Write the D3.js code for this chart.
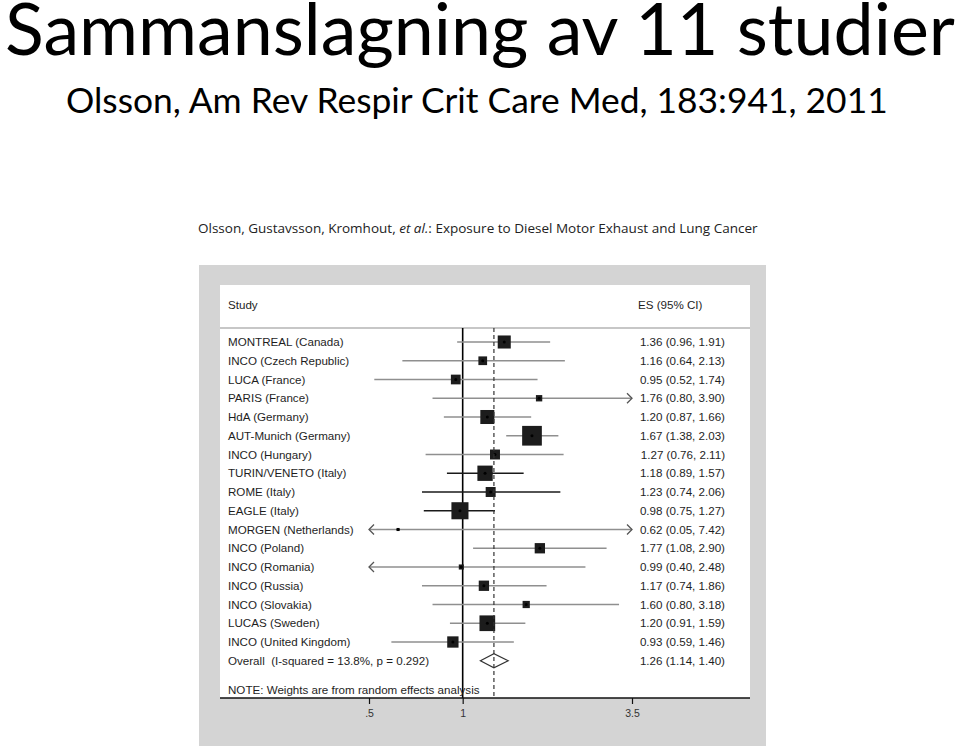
<!DOCTYPE html>
<html>
<head>
<meta charset="utf-8">
<script src="https://cdn.jsdelivr.net/npm/d3@7"></script>
<style>
  html, body { margin: 0; padding: 0; background: #ffffff; }
  svg { display: block; }
</style>
</head>
<body>
<script>
// ---------- DATA ----------
const studies = [
  "MONTREAL (Canada)", "INCO (Czech Republic)", "LUCA (France)", "PARIS (France)",
  "HdA (Germany)", "AUT-Munich (Germany)", "INCO (Hungary)", "TURIN/VENETO (Italy)",
  "ROME (Italy)", "EAGLE (Italy)", "MORGEN (Netherlands)", "INCO (Poland)",
  "INCO (Romania)", "INCO (Russia)", "INCO (Slovakia)", "LUCAS (Sweden)",
  "INCO (United Kingdom)"
];
const es    = [1.36, 1.16, 0.95, 1.76, 1.20, 1.67, 1.27, 1.18, 1.23, 0.98, 0.62, 1.77, 0.99, 1.17, 1.60, 1.20, 0.93];
const lower = [0.96, 0.64, 0.52, 0.80, 0.87, 1.38, 0.76, 0.89, 0.74, 0.75, 0.05, 1.08, 0.40, 0.74, 0.80, 0.91, 0.59];
const upper = [1.91, 2.13, 1.74, 3.90, 1.66, 2.03, 2.11, 1.57, 2.06, 1.27, 7.42, 2.90, 2.48, 1.86, 3.18, 1.59, 1.46];
const weights = [7.2, 3.2, 4.0, 1.7, 8.3, 16.4, 4.2, 9.9, 4.2, 12.3, 0.4, 4.5, 1.1, 4.5, 2.2, 10.4, 5.4];
const overall = { es: 1.26, lower: 1.14, upper: 1.40, label: "Overall  (I-squared = 13.8%, p = 0.292)" };
const tickValues = [0.5, 1, 3.5];
const tickLabels = [".5", "1", "3.5"];
const darkCIStudies = ["TURIN/VENETO (Italy)", "ROME (Italy)", "EAGLE (Italy)"];

// ---------- LAYOUT ----------
const W = 960, H = 746;
const svg = d3.select("body").append("svg").attr("width", W).attr("height", H);

const titleFont = "Lato, 'Open Sans', sans-serif";

// Fit a text to a target width by choosing its font size (no glyph distortion)
function fitText(t, target, maxSize) {
  t.attr("font-size", 100);
  const w = t.node().getComputedTextLength();
  t.attr("font-size", Math.min(maxSize, 100 * target / w));
}

// Titles
const t1 = svg.append("text")
  .attr("x", 5).attr("y", 55)
  .attr("font-family", titleFont).attr("fill", "#000")
  .text("Sammanslagning av 11 studier");
fitText(t1, 950, 72);

const t2 = svg.append("text")
  .attr("x", 66).attr("y", 113)
  .attr("font-family", titleFont).attr("fill", "#000")
  .text("Olsson, Am Rev Respir Crit Care Med, 183:941, 2011");
fitText(t2, 822, 46);

// Journal running header
const jh = svg.append("text")
  .attr("x", 198).attr("y", 233)
  .attr("font-family", "'Open Sans', 'Noto Sans', sans-serif")
  .attr("fill", "#222");
jh.append("tspan").text("Olsson, Gustavsson, Kromhout, ");
jh.append("tspan").attr("font-style", "italic").text("et al.");
jh.append("tspan").text(": Exposure to Diesel Motor Exhaust and Lung Cancer");
fitText(jh, 560, 14);

// Gray frame and white plot panel
svg.append("rect").attr("x", 199).attr("y", 265).attr("width", 567).attr("height", 481).attr("fill", "#d4d4d4");
svg.append("rect").attr("x", 220).attr("y", 285).attr("width", 530).attr("height", 413).attr("fill", "#ffffff");

// Scales
const x = d3.scaleLog().domain([0.5, 3.5]).range([369, 632]);
const y = d3.scaleLinear().domain([0, studies.length]).range([342, 660.75]);
const side = d3.scaleSqrt().domain([0, d3.max(weights)]).range([0, 19.7]);

const fontF = "'Liberation Sans', Arial, sans-serif";
const txtCol = "#1e1e1e";
const fs = 11.6;

// Header
svg.append("text").attr("x", 228).attr("y", 309).attr("font-family", fontF).attr("font-size", fs)
  .attr("fill", txtCol).text("Study");
svg.append("text").attr("x", 638).attr("y", 309).attr("font-family", fontF)
  .attr("font-size", fs).attr("fill", txtCol).text("ES (95% CI)");
svg.append("line").attr("x1", 220).attr("x2", 750).attr("y1", 328).attr("y2", 328)
  .attr("stroke", "#b4b4b4").attr("stroke-width", 1.5);

const plotTop = 328, axisY = 698;
const [xmin, xmax] = x.domain();

// Null line
svg.append("line").attr("x1", x(1)).attr("x2", x(1)).attr("y1", plotTop).attr("y2", axisY)
  .attr("stroke", "#000").attr("stroke-width", 1.6);

// Rows
const rows = studies.map((s, i) => ({ s, i, es: es[i], lo: lower[i], hi: upper[i], w: weights[i] }));
const g = svg.append("g");

rows.forEach(d => {
  const yy = y(d.i);
  const dark = darkCIStudies.includes(d.s);
  const col = dark ? "#1a1a1a" : "#8f8f8f";
  const x1 = x(Math.max(d.lo, xmin)), x2 = x(Math.min(d.hi, xmax));
  g.append("line").attr("x1", x1).attr("x2", x2).attr("y1", yy).attr("y2", yy)
    .attr("stroke", col).attr("stroke-width", 1.4);
  if (d.lo < xmin) {
    g.append("path").attr("d", `M${x1 + 5},${yy - 5}L${x1},${yy}L${x1 + 5},${yy + 5}`)
      .attr("fill", "none").attr("stroke", "#555").attr("stroke-width", 1.3);
  }
  if (d.hi > xmax) {
    g.append("path").attr("d", `M${x2 - 5},${yy - 5}L${x2},${yy}L${x2 - 5},${yy + 5}`)
      .attr("fill", "none").attr("stroke", "#555").attr("stroke-width", 1.3);
  }
  const sz = side(d.w);
  g.append("rect").attr("x", x(d.es) - sz / 2).attr("y", yy - sz / 2)
    .attr("width", sz).attr("height", sz).attr("fill", "#1c1c1c");
  g.append("circle").attr("cx", x(d.es)).attr("cy", yy).attr("r", 1.5).attr("fill", "#000");
  // labels
  g.append("text").attr("x", 228).attr("y", yy + 4).attr("font-family", fontF).attr("font-size", fs)
    .attr("fill", txtCol).text(d.s);
  g.append("text").attr("x", 725).attr("y", yy + 4).attr("text-anchor", "end").attr("font-family", fontF)
    .attr("font-size", fs).attr("fill", txtCol)
    .text(`${d.es.toFixed(2)} (${d.lo.toFixed(2)}, ${d.hi.toFixed(2)})`);
});

// Overall
const yo = y(studies.length);
svg.append("line").attr("x1", x(overall.es)).attr("x2", x(overall.es)).attr("y1", plotTop).attr("y2", axisY)
  .attr("stroke", "#333").attr("stroke-width", 1.2).attr("stroke-dasharray", "4,3");
svg.append("path")
  .attr("d", `M${x(overall.lower)},${yo}L${x(overall.es)},${yo - 7}L${x(overall.upper)},${yo}L${x(overall.es)},${yo + 7}Z`)
  .attr("fill", "none").attr("stroke", "#333").attr("stroke-width", 1.2);
svg.append("text").attr("x", 228).attr("y", yo + 4).attr("font-family", fontF).attr("font-size", fs)
  .attr("fill", txtCol).attr("xml:space", "preserve").text(overall.label);
svg.append("text").attr("x", 725).attr("y", yo + 4).attr("text-anchor", "end").attr("font-family", fontF)
  .attr("font-size", fs).attr("fill", txtCol)
  .text(`${overall.es.toFixed(2)} (${overall.lower.toFixed(2)}, ${overall.upper.toFixed(2)})`);

svg.append("text").attr("x", 228).attr("y", 694).attr("font-family", fontF).attr("font-size", fs)
  .attr("fill", txtCol).text("NOTE: Weights are from random effects analysis");

// Axis
const axis = d3.axisBottom(x).tickValues(tickValues)
  .tickFormat((d, i) => tickLabels[i]).tickSize(6).tickPadding(6);
const ax = svg.append("g").attr("transform", `translate(0,${axisY})`).call(axis);
ax.select(".domain").remove();
ax.selectAll(".tick line").attr("stroke", "#111").attr("stroke-width", 1.2);
ax.selectAll(".tick text").attr("font-family", fontF).attr("font-size", 10.5).attr("fill", "#333");
svg.append("line").attr("x1", 220).attr("x2", 750).attr("y1", axisY).attr("y2", axisY)
  .attr("stroke", "#111").attr("stroke-width", 1.5);
</script>
</body>
</html>
